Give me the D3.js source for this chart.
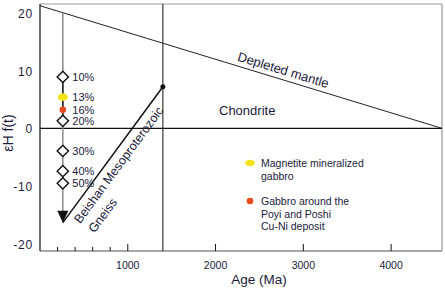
<!DOCTYPE html>
<html>
<head>
<meta charset="utf-8">
<script src="https://cdn.jsdelivr.net/npm/d3@7"></script>
<style>
  body { margin: 0; background: #fff; }
  text { font-family: Arial, "Liberation Sans", sans-serif; fill: #1a1a3a; }
</style>
</head>
<body>
<div id="chart"></div>
<script>
const width = 445
const height = 291
const margin = { top: 4, bottom: 40, left: 40, right: 3 }

// data
const xMajorTicks = [1000, 2000, 3000, 4000]
const xMinorTicks = [200, 400, 600, 800]
const yTicks = [20, 10, 0, -10, -20]
const depletedMantle = [[0, 21.2], [4580, 0]]
const gneissAge = 1400
const gneissLine = [[260, -16.3], [1400, 7.2]]
const mixAge = 260
const mixTop = 20
const mixTip = -16.3
const mixLabels = ["10%", "13%", "16%", "20%", "30%", "40%", "50%"]
const mixValues = [8.9, 5.4, 3.2, 1.3, -3.9, -7.4, -9.5]
const mixKinds = ["diamond", "yellow", "red", "diamond", "diamond", "diamond", "diamond"]
const legendLabels = [["Magnetite mineralized", "gabbro"], ["Gabbro around the", "Poyi and Poshi", "Cu-Ni deposit"]]
const legendKinds = ["yellow", "red"]

const svg = d3.select("#chart").append("svg")
    .attr("width", width)
    .attr("height", height)

let x = d3.scaleLinear().domain([0, 4580]).range([margin.left, width - margin.right])
let y = d3.scaleLinear().domain([-21.2, 21.5]).range([height - margin.bottom, margin.top])

const yellow = "#f2e418"
const red = "#e84a1e"

// frame
svg.append("line").attr("x1", x(0)).attr("x2", x(4580)).attr("y1", y(21.5)).attr("y2", y(21.5))
    .attr("stroke", "#9a9a9a").attr("stroke-width", 1.2)
svg.append("line").attr("x1", x(4580)).attr("x2", x(4580)).attr("y1", y(21.5)).attr("y2", y(-21.2))
    .attr("stroke", "#9a9a9a").attr("stroke-width", 1.2)
svg.append("line").attr("x1", x(0)).attr("x2", x(4580)).attr("y1", y(-21.2)).attr("y2", y(-21.2))
    .attr("stroke", "#8a8a8a").attr("stroke-width", 1.5)
svg.append("line").attr("x1", x(0)).attr("x2", x(0)).attr("y1", y(21.5)).attr("y2", y(-21.2))
    .attr("stroke", "#111").attr("stroke-width", 1.2)

// x ticks (inward)
svg.selectAll(".xmaj").data(xMajorTicks).enter().append("line")
    .attr("x1", d => x(d)).attr("x2", d => x(d))
    .attr("y1", y(-21.2)).attr("y2", y(-21.2) - 7)
    .attr("stroke", "#111").attr("stroke-width", 1)
svg.selectAll(".xmin").data(xMinorTicks).enter().append("line")
    .attr("x1", d => x(d)).attr("x2", d => x(d))
    .attr("y1", y(-21.2)).attr("y2", y(-21.2) - 4)
    .attr("stroke", "#111").attr("stroke-width", 1)
svg.selectAll(".xlab").data(xMajorTicks).enter().append("text")
    .attr("x", d => x(d)).attr("y", 269)
    .attr("text-anchor", "middle").attr("font-size", 10.5)
    .text(d => d)
svg.selectAll(".ylab").data(yTicks).enter().append("text")
    .attr("x", 33).attr("y", d => y(d) + 5)
    .attr("text-anchor", "end").attr("font-size", 12).attr("letter-spacing", 0.8)
    .text(d => d)

svg.append("text").attr("x", 259).attr("y", 284)
    .attr("text-anchor", "middle").attr("font-size", 13.5)
    .text("Age (Ma)")
svg.append("text").attr("transform", `translate(13, 133) rotate(-90)`)
    .attr("text-anchor", "middle").attr("font-size", 14)
    .text("εH f(t)")

// zero line and gneiss age line
svg.append("line").attr("x1", x(0)).attr("x2", x(4580)).attr("y1", y(0)).attr("y2", y(0))
    .attr("stroke", "#111").attr("stroke-width", 1.2)
svg.append("line").attr("x1", x(gneissAge)).attr("x2", x(gneissAge)).attr("y1", y(21.5)).attr("y2", y(-21.2))
    .attr("stroke", "#111").attr("stroke-width", 1)

// depleted mantle
const line = d3.line().x(d => x(d[0])).y(d => y(d[1]))
svg.append("path").datum(depletedMantle).attr("d", line)
    .attr("fill", "none").attr("stroke", "#222").attr("stroke-width", 1)
const dmAngle = Math.atan2(y(depletedMantle[1][1]) - y(depletedMantle[0][1]), x(depletedMantle[1][0]) - x(depletedMantle[0][0])) * 180 / Math.PI
svg.append("text")
    .attr("transform", `translate(${x(2740)}, ${y(21.2 * (1 - 2740 / 4580))}) rotate(${dmAngle}) translate(0, -5)`)
    .attr("text-anchor", "middle").attr("font-size", 13)
    .text("Depleted mantle")
svg.append("text").attr("x", 219).attr("y", 115).attr("font-size", 13).text("Chondrite")

// gneiss evolution line
svg.append("path").datum(gneissLine).attr("d", line)
    .attr("fill", "none").attr("stroke", "#111").attr("stroke-width", 1.5)
svg.append("circle").attr("cx", x(gneissLine[1][0])).attr("cy", y(gneissLine[1][1])).attr("r", 2.5).attr("fill", "#111")
const gx0 = x(gneissLine[0][0]), gy0 = y(gneissLine[0][1])
const gAngle = Math.atan2(y(gneissLine[1][1]) - gy0, x(gneissLine[1][0]) - gx0) * 180 / Math.PI
const gText = svg.append("g").attr("transform", `translate(${gx0}, ${gy0}) rotate(${gAngle})`)
gText.append("text").attr("x", 9).attr("y", 15).attr("font-size", 12.5).text("Beishan Mesoproterozoic")
gText.append("text").attr("x", 10).attr("y", 32).attr("font-size", 12.5).text("Gneiss")

// mixing arrow
svg.append("line").attr("x1", x(mixAge)).attr("x2", x(mixAge)).attr("y1", y(mixTop)).attr("y2", y(mixTip) - 8)
    .attr("stroke", "#8a8a8a").attr("stroke-width", 1.5)
svg.append("line").attr("x1", x(mixAge)).attr("x2", x(mixAge)).attr("y1", y(mixValues[0])).attr("y2", y(mixValues[3]))
    .attr("stroke", "#222").attr("stroke-width", 1.5)
const ax = x(mixAge), ay = y(mixTip)
svg.append("path").attr("d", `M${ax},${ay} L${ax - 5.5},${ay - 12} L${ax + 5.5},${ay - 12} Z`).attr("fill", "#111")

const mix = mixLabels.map((l, i) => ({ label: l, v: mixValues[i], kind: mixKinds[i] }))
svg.selectAll(".diamond").data(mix.filter(d => d.kind === "diamond")).enter().append("path")
    .attr("transform", d => `translate(${x(mixAge)}, ${y(d.v)}) rotate(45)`)
    .attr("d", "M-4,-4 L4,-4 L4,4 L-4,4 Z")
    .attr("fill", "#fff").attr("stroke", "#111").attr("stroke-width", 1.4)
svg.selectAll(".yel").data(mix.filter(d => d.kind === "yellow")).enter().append("ellipse")
    .attr("cx", x(mixAge)).attr("cy", d => y(d.v)).attr("rx", 5).attr("ry", 3.8).attr("fill", yellow)
svg.selectAll(".red").data(mix.filter(d => d.kind === "red")).enter().append("circle")
    .attr("cx", x(mixAge)).attr("cy", d => y(d.v)).attr("r", 3.3).attr("fill", red)
svg.selectAll(".mixlab").data(mix).enter().append("text")
    .attr("x", x(mixAge) + 9.5).attr("y", d => y(d.v) + 4)
    .attr("font-size", 11).text(d => d.label)

// legend
const legend = svg.append("g")
legendKinds.forEach((k, i) => {
    const ly = [163, 201][i]
    if (k === "yellow") legend.append("ellipse").attr("cx", 250).attr("cy", ly).attr("rx", 5).attr("ry", 3.2).attr("fill", yellow)
    else legend.append("circle").attr("cx", 250).attr("cy", ly).attr("r", 3.3).attr("fill", red)
    legendLabels[i].forEach((t, j) => {
        legend.append("text").attr("x", 261).attr("y", ly + 4 + j * 12.5)
            .attr("font-size", 10.5).text(t)
    })
})
</script>
</body>
</html>
